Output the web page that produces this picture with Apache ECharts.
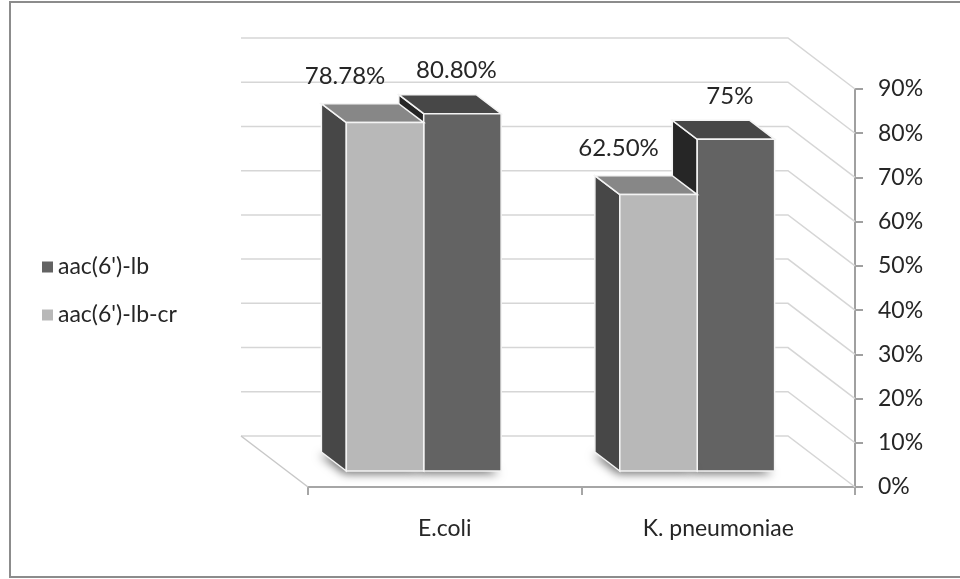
<!DOCTYPE html>
<html>
<head>
<meta charset="utf-8">
<script src="https://cdn.jsdelivr.net/npm/echarts@6/dist/echarts.min.js"></script>
<style>
  html, body { margin: 0; padding: 0; background: #fff; }
  #chart { width: 960px; height: 579px; }
</style>
</head>
<body>
<div id="chart"></div>
<script>
// data
const categories = ['E.coli', 'K. pneumoniae'];
const lbValues = [80.80, 75];
const lbLabels = ['80.80%', '75%'];
const lbCrValues = [78.78, 62.50];
const lbCrLabels = ['78.78%', '62.50%'];
const tickValues = [0, 10, 20, 30, 40, 50, 60, 70, 80, 90];

// oblique depth of the floor/back wall, in pixels
const DX = -67, DY = -51;
const FRONT = 0.314, BACK = 0.686;   // bar front / back face depth (fraction)
const BAR_W = 0.283;                 // bar width as fraction of category band

const myChart = echarts.init(document.getElementById('chart'));

function wallItem(params, api) {
    const cs = params.coordSys;
    const y = api.coord([0, api.value(1)])[1];
    const x0 = cs.x, x1 = cs.x + cs.width;
    const children = [{
        type: 'polyline',
        shape: {points: [[x0 + DX, y + DY], [x1 + DX, y + DY], [x1, y]]},
        style: {stroke: '#d6d6d6', lineWidth: 1.5, fill: null}
    }];
    if (api.value(1) === 0) {
        children.push({
            type: 'line',
            shape: {x1: x0 + DX, y1: y + DY, x2: x0, y2: y},
            style: {stroke: '#c8c8c8', lineWidth: 1.5}
        });
    }
    return {type: 'group', children: children};
}

function makeBarRender(side, colors, labels, labelOff) {
    return function (params, api) {
        const cat = api.value(0);
        const top = api.coord([cat, api.value(1)]);
        const base = api.coord([cat, 0]);
        const band = api.size([1, 0])[0];
        const w = band * BAR_W;
        const xl = side < 0 ? base[0] - w : base[0];
        const xr = xl + w;
        const fx = DX * FRONT, fy = DY * FRONT;
        const bx = DX * BACK, by = DY * BACK;
        const yb = base[1], yt = top[1];
        const edge = {stroke: '#f4f4f4', lineWidth: 1.5};
        return {
            type: 'group',
            children: [
                {   // soft shadow on the floor
                    type: 'polygon',
                    shape: {points: [[xl + fx, yb + fy], [xr + fx, yb + fy], [xr + bx, yb + by], [xl + bx, yb + by]]},
                    style: {fill: '#8a8a8a', shadowBlur: 10, shadowColor: 'rgba(0,0,0,0.55)', shadowOffsetX: -2, shadowOffsetY: 3}
                },
                {   // left side
                    type: 'polygon',
                    shape: {points: [[xl + bx, yb + by], [xl + fx, yb + fy], [xl + fx, yt + fy], [xl + bx, yt + by]]},
                    style: Object.assign({fill: colors.side}, edge)
                },
                {   // top
                    type: 'polygon',
                    shape: {points: [[xl + fx, yt + fy], [xr + fx, yt + fy], [xr + bx, yt + by], [xl + bx, yt + by]]},
                    style: Object.assign({fill: colors.top}, edge)
                },
                {   // front
                    type: 'rect',
                    shape: {x: xl + fx, y: yt + fy, width: w, height: yb - yt},
                    style: Object.assign({fill: colors.front}, edge)
                },
                {
                    type: 'text',
                    style: {
                        text: labels[params.dataIndex],
                        x: (xl + xr) / 2 + fx + labelOff[0],
                        y: yt + fy + labelOff[1],
                        align: 'center', verticalAlign: 'middle',
                        textAlign: 'center', textVerticalAlign: 'middle',
                        fontSize: 24, fontFamily: 'Lato', fill: '#262626'
                    }
                }
            ]
        };
    };
}

const option = {
    backgroundColor: '#fff',
    animation: false,
    graphic: [{
        type: 'rect',
        shape: {x: 10, y: 2, width: 970, height: 575},
        style: {fill: null, stroke: '#8c8c8c', lineWidth: 2},
        silent: true
    }],
    legend: {
        orient: 'vertical',
        left: 42,
        top: 255,
        padding: 0,
        itemGap: 24,
        itemWidth: 11,
        itemHeight: 11,
        icon: 'rect',
        textStyle: {fontFamily: 'Lato', fontSize: 23, color: '#262626', lineHeight: 24},
        data: ["aac(6')-lb", "aac(6')-lb-cr"]
    },
    grid: {left: 308, right: 105, top: 89, bottom: 92, containLabel: false},
    xAxis: {
        type: 'category',
        data: categories,
        axisLine: {lineStyle: {color: '#a6a6a6', width: 2}},
        axisTick: {show: true, length: 8, lineStyle: {color: '#a6a6a6', width: 2}},
        axisLabel: {fontFamily: 'Lato', fontSize: 23, color: '#262626', margin: 30},
        splitLine: {show: false}
    },
    yAxis: {
        type: 'value',
        position: 'right',
        min: 0,
        max: 90,
        interval: 10,
        axisLine: {show: true, lineStyle: {color: '#a0a0a0', width: 2}},
        axisTick: {show: true, length: 8, lineStyle: {color: '#a0a0a0', width: 2}},
        axisLabel: {formatter: '{value}%', fontFamily: 'Lato', fontSize: 23, color: '#262626', margin: 23},
        splitLine: {show: false}
    },
    series: [
        {
            name: 'wall',
            type: 'custom',
            clip: false,
            silent: true,
            z: 1,
            renderItem: wallItem,
            encode: {x: 0, y: 1},
            data: tickValues.map(v => [0, v])
        },
        {
            name: "aac(6')-lb",
            type: 'custom',
            clip: false,
            z: 2,
            itemStyle: {color: '#636363'},
            renderItem: makeBarRender(1, {front: '#636363', top: '#474747', side: '#262626'}, lbLabels, [-6, -43]),
            encode: {x: 0, y: 1},
            data: lbValues.map((v, i) => [i, v])
        },
        {
            name: "aac(6')-lb-cr",
            type: 'custom',
            clip: false,
            z: 3,
            itemStyle: {color: '#b8b8b8'},
            renderItem: makeBarRender(-1, {front: '#b8b8b8', top: '#878787', side: '#474747'}, lbCrLabels, [-40, -46]),
            encode: {x: 0, y: 1},
            data: lbCrValues.map((v, i) => [i, v])
        }
    ]
};

option && myChart.setOption(option);
</script>
</body>
</html>
